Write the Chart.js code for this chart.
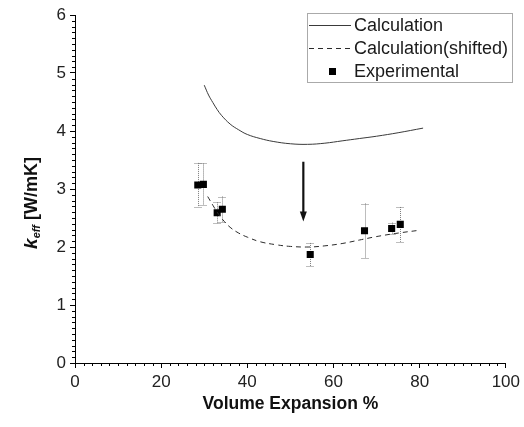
<!DOCTYPE html>
<html>
<head>
<meta charset="utf-8">
<script src="https://cdn.jsdelivr.net/npm/chart.js@4/dist/chart.umd.min.js"></script>
<style>
  html, body { margin: 0; padding: 0; background: #fff; }
  #wrap { width: 524px; height: 427px; }
</style>
</head>
<body>
<div id="wrap"><canvas id="c" width="524" height="427"></canvas></div>
<script>
// Model curve (solid)
const calcX = [30, 31, 32, 33, 34, 36, 38, 40, 43, 46, 50, 54, 58, 62, 66, 70, 75, 80.8];
const calcY = [4.79, 4.62, 4.49, 4.37, 4.27, 4.12, 4.02, 3.94, 3.87, 3.82, 3.78, 3.77, 3.79, 3.83, 3.87, 3.91, 3.97, 4.05];

// Model curve shifted down (dashed)
const shiftX = [30.8, 32, 33, 34.2, 36, 38, 40, 43, 46.6, 50, 54.3, 58, 62, 66, 70, 75, 80.1];
const shiftY = [2.87, 2.72, 2.60, 2.48, 2.34, 2.24, 2.17, 2.09, 2.04, 2.01, 2.00, 2.02, 2.06, 2.12, 2.18, 2.24, 2.29];

// Measurements with error bars
const expX = [28.5, 29.8, 33.0, 34.2, 54.6, 67.2, 73.5, 75.5];
const expY = [3.07, 3.08, 2.59, 2.65, 1.87, 2.28, 2.32, 2.39];
const expErr = [0.38, 0.36, 0.18, 0.22, 0.20, 0.47, 0.10, 0.30];

// Arrow from the model curve down to the shifted one
const arrowX = 53.0;
const arrowFrom = 3.47;
const arrowTo = 2.44;

// Axis ticks
const xTickValues = [0, 20, 40, 60, 80, 100];
const yTickValues = [0, 1, 2, 3, 4, 5, 6];

const seriesNames = ['Calculation', 'Calculation(shifted)', 'Experimental'];

const FONT = "'Liberation Sans', Arial, Helvetica, sans-serif";

const toPoints = (xs, ys) => xs.map((x, i) => ({ x: x, y: ys[i] }));

const overlay = {
  id: 'overlay',
  beforeDatasetsDraw(chart) {
    const { ctx, scales: { x, y } } = chart;
    ctx.save();
    ctx.strokeStyle = '#7a7a7a';
    ctx.lineWidth = 1;
    ctx.setLineDash([1, 1]);
    expX.forEach((v, i) => {
      const px = Math.round(x.getPixelForValue(v)) + 0.5;
      const top = y.getPixelForValue(expY[i] + expErr[i]);
      const bot = y.getPixelForValue(expY[i] - expErr[i]);
      ctx.beginPath();
      ctx.moveTo(px, top); ctx.lineTo(px, bot);
      ctx.moveTo(px - 4, Math.round(top) + 0.5); ctx.lineTo(px + 4, Math.round(top) + 0.5);
      ctx.moveTo(px - 4, Math.round(bot) + 0.5); ctx.lineTo(px + 4, Math.round(bot) + 0.5);
      ctx.stroke();
    });
    ctx.restore();
  },
  afterDraw(chart) {
    const { ctx, chartArea: a, scales: { x, y } } = chart;
    ctx.save();

    // minor ticks
    ctx.strokeStyle = '#000';
    ctx.lineWidth = 1;
    ctx.beginPath();
    for (let k = 0; k <= 50; k++) {
      if (k % 10 === 0) continue;
      const px = Math.round(x.getPixelForValue(k * 2)) + 0.5;
      ctx.moveTo(px, a.bottom); ctx.lineTo(px, a.bottom + 3);
    }
    for (let k = 0; k <= 60; k++) {
      if (k % 10 === 0) continue;
      const py = Math.round(y.getPixelForValue(k / 10)) + 0.5;
      ctx.moveTo(a.left, py); ctx.lineTo(a.left - 3, py);
    }
    ctx.stroke();

    // arrow
    const ax = x.getPixelForValue(arrowX);
    const ay0 = y.getPixelForValue(arrowFrom);
    const ay1 = y.getPixelForValue(arrowTo);
    ctx.strokeStyle = '#111';
    ctx.fillStyle = '#111';
    ctx.lineWidth = 2.2;
    ctx.beginPath();
    ctx.moveTo(ax, ay0); ctx.lineTo(ax, ay1 - 8);
    ctx.stroke();
    ctx.beginPath();
    ctx.moveTo(ax - 3.5, ay1 - 10);
    ctx.lineTo(ax + 3.5, ay1 - 10);
    ctx.lineTo(ax, ay1);
    ctx.closePath();
    ctx.fill();

    // legend box
    const lx = 307, ly = 13, lw = 205, lh = 69;
    ctx.strokeStyle = '#555';
    ctx.lineWidth = 1;
    ctx.setLineDash([1, 1]);
    ctx.strokeRect(lx + 0.5, ly + 0.5, lw, lh);
    ctx.setLineDash([]);
    const rows = [25, 48, 71];
    ctx.font = '18px ' + FONT;
    ctx.fillStyle = '#1a1a1a';
    ctx.textBaseline = 'middle';
    ctx.textAlign = 'left';
    chart.data.datasets.forEach((ds, i) => {
      const ry = rows[i] + 0.5;
      if (i < 2) {
        ctx.strokeStyle = ds.borderColor;
        ctx.lineWidth = 1;
        ctx.setLineDash(ds.borderDash || []);
        ctx.beginPath();
        ctx.moveTo(309, ry); ctx.lineTo(351, ry);
        ctx.stroke();
        ctx.setLineDash([]);
      } else {
        ctx.fillStyle = '#000';
        ctx.fillRect(329, rows[i] - 3, 7, 7);
        ctx.fillStyle = '#1a1a1a';
      }
      ctx.fillText(ds.label, 354, rows[i] + 1);
    });

    // x title
    ctx.font = 'bold 17.5px ' + FONT;
    ctx.fillStyle = '#111';
    ctx.textAlign = 'center';
    ctx.fillText('Volume Expansion %', (a.left + a.right) / 2, 404);

    // y title: italic k with subscript eff, then unit
    ctx.translate(31, 203);
    ctx.rotate(-Math.PI / 2);
    const f1 = 'bold italic 19px ' + FONT;
    const f2 = 'bold italic 11px ' + FONT;
    const f3 = 'bold 18px ' + FONT;
    ctx.font = f1; const w1 = ctx.measureText('k').width;
    ctx.font = f2; const w2 = ctx.measureText('eff').width;
    ctx.font = f3; const w3 = ctx.measureText(' [W/mK]').width;
    let cx = -(w1 + w2 + w3) / 2;
    ctx.textAlign = 'left';
    ctx.textBaseline = 'alphabetic';
    ctx.font = f1; ctx.fillText('k', cx, 6); cx += w1;
    ctx.font = f2; ctx.fillText('eff', cx, 9); cx += w2;
    ctx.font = f3; ctx.fillText(' [W/mK]', cx, 6);

    ctx.restore();
  }
};

new Chart(document.getElementById('c'), {
  type: 'scatter',
  data: {
    datasets: [
      {
        label: seriesNames[0],
        data: toPoints(calcX, calcY),
        showLine: true,
        borderColor: '#3a3a3a',
        borderWidth: 1,
        pointRadius: 0,
        tension: 0.4
      },
      {
        label: seriesNames[1],
        data: toPoints(shiftX, shiftY),
        showLine: true,
        borderColor: '#2a2a2a',
        borderWidth: 1,
        borderDash: [5, 4],
        pointRadius: 0,
        tension: 0.4
      },
      {
        label: seriesNames[2],
        data: toPoints(expX, expY),
        showLine: false,
        pointStyle: 'rect',
        pointRadius: 5,
        backgroundColor: '#000',
        borderColor: '#000',
        borderWidth: 0
      }
    ]
  },
  options: {
    responsive: false,
    animation: false,
    layout: { padding: { left: 0, top: 15, right: 16, bottom: 0 } },
    plugins: { legend: { display: false }, tooltip: { enabled: false } },
    scales: {
      x: {
        type: 'linear', min: 0, max: 100,
        afterBuildTicks: s => { s.ticks = xTickValues.map(v => ({ value: v })); },
        afterFit: s => { s.height = 64; },
        grid: { drawOnChartArea: false, drawTicks: true, tickLength: 5, color: '#000' },
        border: { color: '#000', width: 1 },
        ticks: { font: { family: FONT, size: 17 }, color: '#222', padding: 4, maxRotation: 0 }
      },
      y: {
        type: 'linear', min: 0, max: 6,
        afterBuildTicks: s => { s.ticks = yTickValues.map(v => ({ value: v })); },
        afterFit: s => { s.width = 75; },
        grid: { drawOnChartArea: false, drawTicks: true, tickLength: 5, color: '#000' },
        border: { color: '#000', width: 1 },
        ticks: { font: { family: FONT, size: 17 }, color: '#222', padding: 4 }
      }
    }
  },
  plugins: [overlay]
});
</script>
</body>
</html>
